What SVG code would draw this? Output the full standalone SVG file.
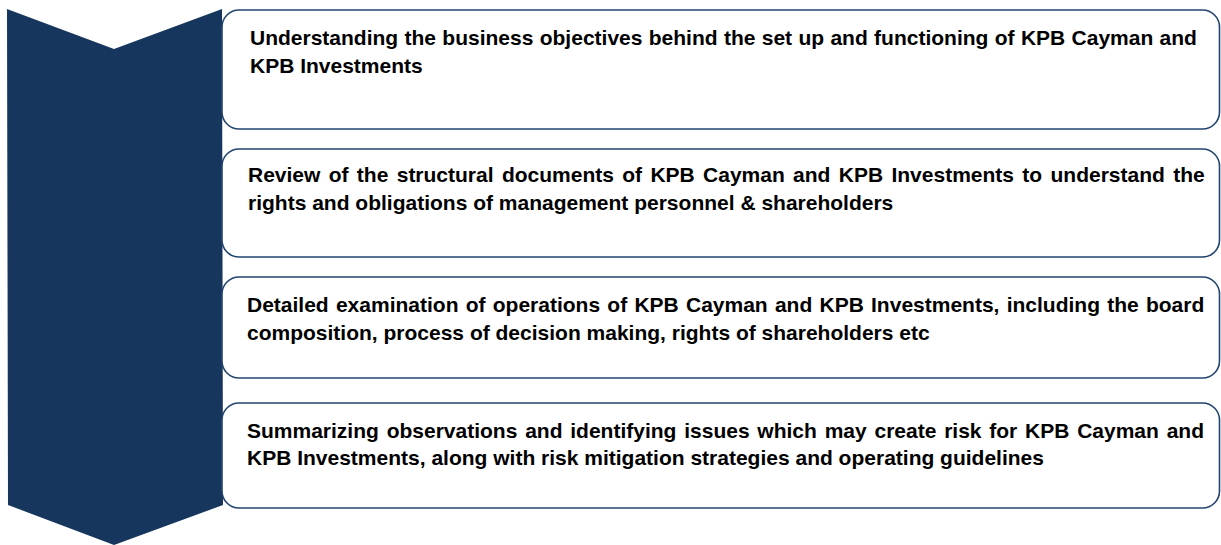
<svg xmlns="http://www.w3.org/2000/svg" width="1221" height="545" viewBox="0 0 1221 545">
  <style>
    .step { fill: #ffffff; stroke: #24456f; stroke-width: 1.6; }
    .txt { font-family: "Liberation Sans", Arial, sans-serif; font-weight: bold; font-size: 21px; fill: #000000; }
  </style>
  <rect width="1221" height="545" fill="#ffffff"/>

  <!-- process chevron -->
  <g id="chevron">
    <polygon points="7,9 114,49 222,9 223,505 114,545 8,505" fill="#17365d"/>
  </g>

  <g id="step1">
    <rect class="step" x="222" y="10" width="997.5" height="119" rx="17" ry="17"/>
    <text class="txt" x="250" y="45" word-spacing="0.5">Understanding the business objectives behind the set up and functioning of KPB Cayman and</text>
    <text class="txt" x="250" y="73">KPB Investments</text>
  </g>

  <g id="step2">
    <rect class="step" x="222" y="149" width="997.5" height="108" rx="17" ry="17"/>
    <text class="txt" x="248" y="182" word-spacing="2.5">Review of the structural documents of KPB Cayman and KPB Investments to understand the</text>
    <text class="txt" x="248" y="210">rights and obligations of management personnel &amp; shareholders</text>
  </g>

  <g id="step3">
    <rect class="step" x="222" y="277" width="997.5" height="101" rx="17" ry="17"/>
    <text class="txt" x="247" y="312" word-spacing="1.4">Detailed examination of operations of KPB Cayman and KPB Investments, including the board</text>
    <text class="txt" x="247" y="340">composition, process of decision making, rights of shareholders etc</text>
  </g>

  <g id="step4">
    <rect class="step" x="222" y="403" width="997.5" height="105" rx="17" ry="17"/>
    <text class="txt" x="247" y="438" word-spacing="1.95">Summarizing observations and identifying issues which may create risk for KPB Cayman and</text>
    <text class="txt" x="247" y="465">KPB Investments, along with risk mitigation strategies and operating guidelines</text>
  </g>

  <g id="connectors"/>
</svg>
